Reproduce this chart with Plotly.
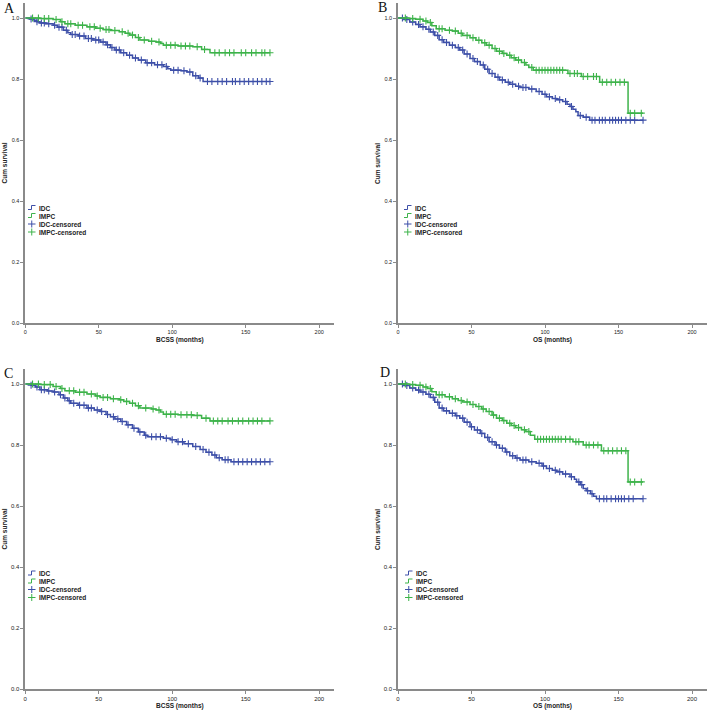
import plotly.graph_objects as go

W, H = 709, 710

# ---------------- data ----------------
# Panel A : BCSS
A_idc_t = [0, 3, 6, 8, 10, 14, 19, 22, 26, 29, 31, 36, 41, 46, 51, 55, 58, 61, 65, 69, 73, 77, 82, 88, 94, 97, 99, 106, 110, 114, 118, 121, 166.5]
A_idc_s = [1.0, 0.997, 0.993, 0.988, 0.984, 0.981, 0.976, 0.970, 0.960, 0.952, 0.946, 0.941, 0.933, 0.928, 0.921, 0.912, 0.903, 0.895, 0.886, 0.878, 0.869, 0.862, 0.853, 0.847, 0.841, 0.834, 0.829, 0.827, 0.823, 0.811, 0.803, 0.792, 0.792]
A_impc_t = [0, 10, 19, 24, 27, 34, 42, 48, 53, 58, 64, 68, 71, 75, 78, 84, 89, 92, 94, 104, 114, 120, 125.7, 166.5]
A_impc_s = [1.0, 0.998, 0.995, 0.988, 0.981, 0.976, 0.971, 0.966, 0.962, 0.959, 0.955, 0.950, 0.944, 0.936, 0.928, 0.924, 0.921, 0.916, 0.911, 0.908, 0.906, 0.897, 0.886, 0.886]
A_idc_cens = [4, 8, 11, 13, 16, 20, 23, 25, 28, 32, 34, 37, 40, 43, 45, 48, 50, 53, 56, 59, 62, 64, 67, 71, 75, 79, 83, 86, 90, 93, 96, 101, 104, 108, 112, 116, 119, 124, 127, 131, 134, 137, 141, 143, 146, 149, 152, 155, 158, 161, 164, 166.5]
A_impc_cens = [5, 9, 13, 16, 21, 25, 29, 31, 36, 39, 44, 47, 51, 55, 57, 61, 66, 70, 73, 77, 81, 86, 91, 96, 99, 102, 106, 109, 112, 117, 122, 129, 132, 136, 139, 142, 147, 150, 154, 157, 161, 163, 166.5]

# Panel B : OS
B_idc_t = [0, 4, 8, 12, 15, 19, 22, 25, 28, 31, 35, 39, 42, 45, 49, 52, 56, 59, 62, 66, 69, 73, 76, 80, 83, 89, 94, 98, 101, 105, 108, 112, 115, 117, 119, 121, 122.5, 126, 130.4, 166.7]
B_idc_s = [1.0, 0.995, 0.987, 0.979, 0.971, 0.963, 0.954, 0.943, 0.929, 0.920, 0.911, 0.903, 0.895, 0.882, 0.867, 0.857, 0.846, 0.832, 0.818, 0.806, 0.797, 0.789, 0.783, 0.776, 0.772, 0.767, 0.759, 0.750, 0.742, 0.736, 0.732, 0.726, 0.717, 0.710, 0.701, 0.693, 0.680, 0.675, 0.665, 0.665]
B_impc_t = [0, 8, 12, 17, 20, 23, 26, 32, 37, 41, 44, 49, 53, 57, 60, 64, 67, 71, 74, 77, 80, 84, 87, 89, 92, 115.6, 124.7, 137.2, 156.5, 166.7]
B_impc_s = [1.0, 0.998, 0.996, 0.990, 0.985, 0.975, 0.965, 0.960, 0.957, 0.950, 0.943, 0.935, 0.927, 0.919, 0.911, 0.900, 0.891, 0.884, 0.878, 0.870, 0.862, 0.854, 0.846, 0.838, 0.829, 0.818, 0.808, 0.789, 0.688, 0.688]
B_idc_cens = [3, 6, 10, 14, 17, 21, 24, 27, 30, 33, 37, 41, 44, 47, 51, 54, 58, 61, 64, 68, 71, 75, 78, 82, 85, 87, 91, 96, 100, 103, 107, 110, 114, 118, 124, 128, 132, 134, 137, 139, 141, 144, 146, 148, 150, 152, 155, 158, 161, 166.7]
B_impc_cens = [5, 10, 15, 19, 22, 28, 30, 35, 39, 43, 47, 51, 55, 59, 62, 66, 69, 72, 76, 79, 82, 86, 91, 94, 96, 98, 100, 102, 104, 106, 108, 110, 112, 117, 120, 122, 126, 129, 133, 135, 139, 142, 145, 148, 151, 154, 158, 161, 165.5]

# Panel C : BCSS
C_idc_t = [0, 4, 7, 10, 15, 19, 23, 26, 29, 31, 36, 42, 47, 51, 55, 58, 61, 65, 69, 73, 77, 81, 83, 94, 99, 103, 108, 114, 119, 123, 127, 130, 134, 140, 166.5]
C_idc_s = [1.0, 0.996, 0.990, 0.981, 0.977, 0.974, 0.965, 0.954, 0.945, 0.937, 0.930, 0.921, 0.915, 0.910, 0.900, 0.893, 0.885, 0.877, 0.866, 0.855, 0.843, 0.832, 0.827, 0.822, 0.817, 0.811, 0.804, 0.795, 0.785, 0.776, 0.767, 0.758, 0.752, 0.745, 0.745]
C_impc_t = [0, 10, 19, 24, 27, 34, 42, 48, 51, 58, 64, 67, 71, 75, 78, 86, 89, 92, 94, 104, 114, 120, 125.7, 166.5]
C_impc_s = [1.0, 0.998, 0.992, 0.985, 0.978, 0.973, 0.967, 0.961, 0.956, 0.952, 0.948, 0.943, 0.937, 0.929, 0.921, 0.918, 0.915, 0.908, 0.901, 0.899, 0.897, 0.888, 0.879, 0.879]
C_idc_cens = [4, 8, 11, 13, 16, 20, 24, 27, 30, 33, 37, 40, 43, 45, 49, 52, 56, 60, 63, 66, 70, 74, 78, 82, 86, 89, 92, 96, 100, 104, 107, 111, 116, 121, 125, 129, 132, 136, 138, 142, 145, 148, 151, 154, 157, 160, 163, 166.5]
C_impc_cens = [5, 9, 13, 17, 21, 25, 30, 33, 37, 40, 45, 49, 53, 56, 60, 65, 69, 73, 77, 82, 87, 91, 96, 99, 102, 106, 110, 113, 117, 123, 128, 131, 134, 138, 141, 145, 148, 152, 155, 158, 161, 166.5]

# Panel D : OS
D_idc_t = [0, 4, 8, 12, 15, 19, 22, 25, 28, 31, 35, 39, 42, 45, 49, 52, 56, 59, 62, 66, 69, 73, 76, 80, 83, 89, 94, 98, 101, 105, 108, 112, 117, 120, 121.5, 124, 126, 128, 131, 133, 135, 166.7]
D_idc_s = [1.0, 0.995, 0.987, 0.980, 0.974, 0.966, 0.956, 0.940, 0.921, 0.912, 0.904, 0.896, 0.888, 0.875, 0.860, 0.849, 0.838, 0.825, 0.811, 0.800, 0.789, 0.777, 0.765, 0.757, 0.751, 0.745, 0.740, 0.731, 0.723, 0.717, 0.712, 0.705, 0.696, 0.688, 0.679, 0.670, 0.657, 0.650, 0.640, 0.632, 0.624, 0.624]
D_impc_t = [0, 8, 12, 17, 20, 23, 26, 32, 37, 41, 44, 49, 53, 57, 60, 64, 67, 71, 74, 77, 80, 84, 87, 90, 93, 119, 126, 138.4, 156.5, 166.7]
D_impc_s = [1.0, 0.998, 0.996, 0.990, 0.985, 0.975, 0.965, 0.958, 0.952, 0.946, 0.941, 0.933, 0.926, 0.918, 0.910, 0.898, 0.888, 0.880, 0.871, 0.864, 0.857, 0.850, 0.844, 0.832, 0.819, 0.811, 0.800, 0.781, 0.679, 0.679]
D_idc_cens = [3, 6, 10, 14, 17, 21, 24, 27, 30, 33, 37, 40, 44, 47, 50, 54, 57, 61, 64, 67, 71, 74, 78, 81, 85, 87, 91, 96, 99, 103, 107, 110, 114, 118, 123, 125, 129, 132, 137, 140, 142, 145, 148, 150, 152, 154, 157, 160, 166.7]
D_impc_cens = [5, 10, 15, 19, 22, 28, 30, 35, 39, 43, 47, 51, 55, 58, 62, 65, 69, 72, 76, 79, 82, 86, 89, 95, 97, 99, 101, 103, 105, 107, 109, 111, 114, 117, 121, 123, 128, 130, 133, 136, 140, 143, 146, 149, 152, 155, 158, 161, 165.5]

panel_letters = ["A", "B", "C", "D"]
x_titles = ["BCSS (months)", "OS (months)", "BCSS (months)", "OS (months)"]
y_title = "Cum survival"
legend_labels = ["IDC", "IMPC", "IDC-censored", "IMPC-censored"]
x_ticks = [0, 50, 100, 150, 200]
y_ticks = [0.0, 0.2, 0.4, 0.6, 0.8, 1.0]
y_ticktext = ["0.0", "0.2", "0.4", "0.6", "0.8", "1.0"]

# ---------------- styling ----------------
BLUE = "#3d4fa8"
GREEN = "#3db34a"
AXIS = "#8a8a8a"
TXT = "#222222"


def step_at(ts, ss, t):
    v = ss[0]
    for ti, si in zip(ts, ss):
        if ti <= t:
            v = si
        else:
            break
    return v


def px(x):
    return x / W


def py(y):
    return 1 - y / H


panels = [
    dict(idc=(A_idc_t, A_idc_s, A_idc_cens), impc=(A_impc_t, A_impc_s, A_impc_cens),
         xd=(25.2, 333.9), yd=(323, 2.75), leg_x=28, leg_y=[208, 216, 224, 232],
         letter=(9, 9), ytitle_x=4.5, xtitle_y=340, tick=5.5),
    dict(idc=(B_idc_t, B_idc_s, B_idc_cens), impc=(B_impc_t, B_impc_s, B_impc_cens),
         xd=(398, 706.7), yd=(323, 2.75), leg_x=404, leg_y=[208, 216, 224, 232],
         letter=(382, 8), ytitle_x=378, xtitle_y=340, tick=5.5),
    dict(idc=(C_idc_t, C_idc_s, C_idc_cens), impc=(C_impc_t, C_impc_s, C_impc_cens),
         xd=(25.2, 333.9), yd=(689, 368.75), leg_x=28, leg_y=[573.5, 581.5, 589.5, 597.5],
         letter=(8, 373), ytitle_x=4.5, xtitle_y=705.5, tick=6),
    dict(idc=(D_idc_t, D_idc_s, D_idc_cens), impc=(D_impc_t, D_impc_s, D_impc_cens),
         xd=(398, 706.7), yd=(689, 368.75), leg_x=405, leg_y=[573.5, 581.5, 589.5, 597.5],
         letter=(385, 372), ytitle_x=378, xtitle_y=705.5, tick=6),
]

fig = go.Figure()
annotations = []
shapes = []
layout_axes = {}

for i, p in enumerate(panels):
    n = "" if i == 0 else str(i + 1)
    xa, ya = "x" + n, "y" + n
    for key, col in (("idc", BLUE), ("impc", GREEN)):
        ts, ss, cens = p[key]
        fig.add_trace(go.Scatter(x=ts, y=ss, mode="lines", line=dict(color=col, width=1.5, shape="hv"),
                                 xaxis=xa, yaxis=ya, showlegend=False, hoverinfo="skip"))
        fig.add_trace(go.Scatter(x=cens, y=[step_at(ts, ss, t) for t in cens], mode="markers",
                                 marker=dict(symbol="cross-thin", size=5, line=dict(color=col, width=1.1)),
                                 xaxis=xa, yaxis=ya, showlegend=False, hoverinfo="skip"))

    x0, x1 = p["xd"]
    y0, y1 = p["yd"]
    common = dict(showline=True, linecolor=AXIS, linewidth=1.5, ticks="outside", ticklen=3,
                  tickwidth=1, tickcolor=AXIS, showgrid=False, zeroline=False, automargin=False,
                  tickfont=dict(family="Liberation Sans, Arial", size=p["tick"], color=TXT))
    layout_axes["xaxis" + n] = dict(common, domain=[px(x0), px(x1)], anchor=ya, range=[0, 210],
                                    tickvals=x_ticks)
    layout_axes["yaxis" + n] = dict(common, domain=[py(y0), py(y1)], anchor=xa, range=[0, 1.05],
                                    tickvals=y_ticks, ticktext=y_ticktext)

    # panel letter
    lx, ly = p["letter"]
    annotations.append(dict(text=panel_letters[i], x=px(lx), y=py(ly), xref="paper", yref="paper",
                            showarrow=False, xanchor="center", yanchor="middle",
                            font=dict(family="Liberation Serif, Times New Roman", size=14, color="#111")))
    # axis titles
    annotations.append(dict(text="<b>" + y_title + "</b>", x=px(p["ytitle_x"]), y=(py(y0) + py(y1)) / 2,
                            xref="paper", yref="paper", showarrow=False, textangle=-90,
                            xanchor="center", yanchor="middle",
                            font=dict(family="Liberation Sans, Arial", size=6.5, color=TXT)))
    annotations.append(dict(text="<b>" + x_titles[i] + "</b>", x=(px(x0) + px(x1)) / 2, y=py(p["xtitle_y"]),
                            xref="paper", yref="paper", showarrow=False, xanchor="center", yanchor="middle",
                            font=dict(family="Liberation Sans, Arial", size=6.5, color=TXT)))

    # legend (drawn manually, compact)
    L = p["leg_x"]
    cols = [BLUE, GREEN, BLUE, GREEN]
    for j, (lab, yy) in enumerate(zip(legend_labels, p["leg_y"])):
        c = cols[j]
        if j < 2:
            path = "M {a},{b} L {c1},{b} L {c1},{d} L {e},{d}".format(
                a=px(L), b=py(yy + 1.5), c1=px(L + 3.5), d=py(yy - 2.5), e=px(L + 7.5))
            shapes.append(dict(type="path", path=path, xref="paper", yref="paper",
                               line=dict(color=c, width=1)))
        else:
            shapes.append(dict(type="line", x0=px(L), x1=px(L + 7.5), y0=py(yy), y1=py(yy),
                               xref="paper", yref="paper", line=dict(color=c, width=1)))
            shapes.append(dict(type="line", x0=px(L + 3.75), x1=px(L + 3.75), y0=py(yy - 3.5),
                               y1=py(yy + 3.5), xref="paper", yref="paper", line=dict(color=c, width=1)))
        annotations.append(dict(text="<b>" + lab + "</b>", x=px(L + 8.5), y=py(yy), xref="paper",
                                yref="paper", showarrow=False, xanchor="left", yanchor="middle",
                                font=dict(family="Liberation Sans, Arial", size=6.5, color=TXT)))

fig.update_layout(width=W, height=H, margin=dict(l=0, r=0, t=0, b=0, autoexpand=False),
                  plot_bgcolor="white", paper_bgcolor="white", showlegend=False,
                  annotations=annotations, shapes=shapes, **layout_axes)

fig.write_html("out.html", config={"displayModeBar": False},
               post_script="document.body.style.margin='0';document.body.style.overflow='hidden';")
